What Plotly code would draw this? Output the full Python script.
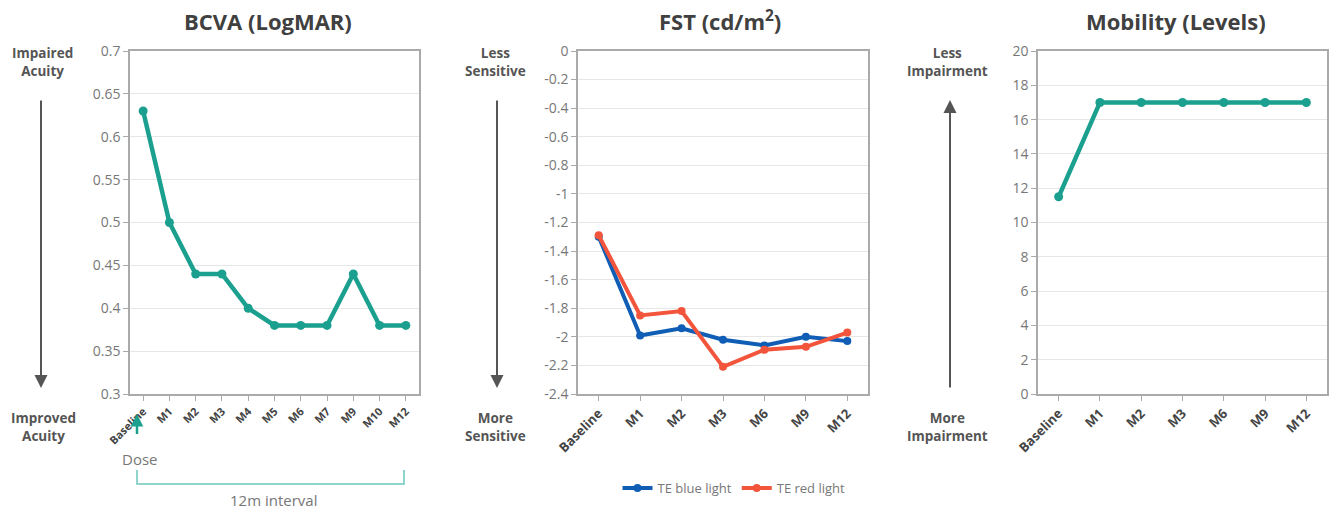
import plotly.graph_objects as go

W, H = 1331, 514

# ---- data ----
bcva_cats = ["Baseline", "M1", "M2", "M3", "M4", "M5", "M6", "M7", "M9", "M10", "M12"]
bcva_vals = [0.63, 0.50, 0.44, 0.44, 0.40, 0.38, 0.38, 0.38, 0.44, 0.38, 0.38]

fst_cats = ["Baseline", "M1", "M2", "M3", "M6", "M9", "M12"]
fst_blue = [-1.30, -1.99, -1.94, -2.02, -2.06, -2.00, -2.03]
fst_red = [-1.29, -1.85, -1.82, -2.21, -2.09, -2.07, -1.97]

mob_cats = ["Baseline", "M1", "M2", "M3", "M6", "M9", "M12"]
mob_vals = [11.5, 17, 17, 17, 17, 17, 17]

bcva_ticks = [0.3, 0.35, 0.4, 0.45, 0.5, 0.55, 0.6, 0.65, 0.7]
bcva_ticktext = ["0.3", "0.35", "0.4", "0.45", "0.5", "0.55", "0.6", "0.65", "0.7"]
fst_ticks = [0, -0.2, -0.4, -0.6, -0.8, -1, -1.2, -1.4, -1.6, -1.8, -2, -2.2, -2.4]
fst_ticktext = ["0", "-0.2", "-0.4", "-0.6", "-0.8", "-1", "-1.2", "-1.4", "-1.6", "-1.8", "-2", "-2.2", "-2.4"]
mob_ticks = list(range(0, 21, 2))

TEAL = "#1BA08F"
BLUE = "#0F5DB5"
RED = "#F2553B"
FONT = "Open Sans"

def px(x):
    return x / W

def py(y):
    return (H - y) / H

fig = go.Figure()

fig.add_trace(go.Scatter(x=bcva_cats, y=bcva_vals, mode="lines+markers",
                         line=dict(color=TEAL, width=4.5), marker=dict(size=9, color=TEAL),
                         xaxis="x", yaxis="y", showlegend=False))
fig.add_trace(go.Scatter(x=fst_cats, y=fst_blue, mode="lines+markers", name="TE blue light",
                         line=dict(color=BLUE, width=4), marker=dict(size=8, color=BLUE),
                         xaxis="x2", yaxis="y2"))
fig.add_trace(go.Scatter(x=fst_cats, y=fst_red, mode="lines+markers", name="TE red light",
                         line=dict(color=RED, width=4), marker=dict(size=8, color=RED),
                         xaxis="x2", yaxis="y2"))
fig.add_trace(go.Scatter(x=mob_cats, y=mob_vals, mode="lines+markers",
                         line=dict(color=TEAL, width=4.5), marker=dict(size=9, color=TEAL),
                         xaxis="x3", yaxis="y3", showlegend=False))

ydom = [py(394), py(51)]
xdoms = [[px(130), px(419)], [px(578), px(868)], [px(1038), px(1327)]]

common_x = dict(type="category", showline=True, linecolor="#aaaaaa", linewidth=1.5, mirror=True,
                ticks="outside", ticklen=5, tickcolor="#aaaaaa", tickangle=-45,
                showgrid=False, zeroline=False, fixedrange=True, automargin=False)
common_y = dict(showline=True, linecolor="#aaaaaa", linewidth=1.5, mirror=True,
                ticks="outside", ticklen=5, tickcolor="#aaaaaa", showgrid=True,
                gridcolor="#e6e6e6", gridwidth=1, zeroline=False, automargin=False,
                tickfont=dict(family=FONT, size=14, color="#777777"), fixedrange=True)

fig.update_layout(
    xaxis=dict(common_x, domain=xdoms[0], anchor="y", range=[-0.5, 10.5],
               tickfont=dict(family=FONT, size=11, color="#444444", weight="bold")),
    yaxis=dict(common_y, domain=ydom, anchor="x", range=[0.3, 0.7],
               tickvals=bcva_ticks, ticktext=bcva_ticktext),
    xaxis2=dict(common_x, domain=xdoms[1], anchor="y2", range=[-0.5, 6.5],
                tickfont=dict(family=FONT, size=13, color="#444444", weight="bold")),
    yaxis2=dict(common_y, domain=ydom, anchor="x2", range=[-2.4, 0],
                tickvals=fst_ticks, ticktext=fst_ticktext),
    xaxis3=dict(common_x, domain=xdoms[2], anchor="y3", range=[-0.5, 6.5],
                tickfont=dict(family=FONT, size=13, color="#444444", weight="bold")),
    yaxis3=dict(common_y, domain=ydom, anchor="x3", range=[0, 20],
                tickvals=mob_ticks),
    width=W, height=H, margin=dict(l=0, r=0, t=0, b=0, autoexpand=False),
    paper_bgcolor="white", plot_bgcolor="white",
    font=dict(family=FONT, color="#555555"),
    legend=dict(orientation="h", x=px(734), xanchor="center", y=py(488), yanchor="middle",
                font=dict(family=FONT, size=13, color="#777777"), itemwidth=30,
                bgcolor="rgba(0,0,0,0)"),
)

ann = []
# titles
for txt, cx in [("BCVA (LogMAR)", 268), ("FST (cd/m<sup>2</sup>)", 720), ("Mobility (Levels)", 1176)]:
    ann.append(dict(text=txt, x=px(cx), y=py(21), xref="paper", yref="paper", showarrow=False,
                    xanchor="center", yanchor="middle",
                    font=dict(family=FONT, size=22, color="#404040", weight="bold")))
# side labels
side = [("Impaired<br>Acuity", 42, 62), ("Improved<br>Acuity", 43, 427),
        ("Less<br>Sensitive", 495, 62), ("More<br>Sensitive", 496, 427),
        ("Less<br>Impairment", 947, 62), ("More<br>Impairment", 948, 427)]
for txt, cx, cy in side:
    ann.append(dict(text=txt, x=px(cx), y=py(cy), xref="paper", yref="paper", showarrow=False,
                    xanchor="center", yanchor="middle",
                    font=dict(family=FONT, size=13.5, color="#555555", weight="bold")))
# big arrows
for ax_x, down in [(41, True), (497, True), (950, False)]:
    if down:
        head, tail = 388, 100
    else:
        head, tail = 100, 388
    ann.append(dict(x=px(ax_x), y=py(head), xref="paper", yref="paper", showarrow=True,
                    ax=0, ay=tail - head, arrowhead=2, arrowsize=1.3, arrowwidth=2,
                    arrowcolor="#555555", text="", font=dict(size=1), borderpad=0))
# dose arrow (head via annotation, shaft via shape)
ann.append(dict(x=px(137), y=py(414), xref="paper", yref="paper", showarrow=True,
                ax=0, ay=12, arrowhead=2, arrowsize=1.0, arrowwidth=2.5,
                arrowcolor=TEAL, text="", font=dict(size=1), borderpad=0))
ann.append(dict(text="Dose", x=px(139), y=py(459), xref="paper", yref="paper", showarrow=False,
                xanchor="center", yanchor="middle", font=dict(family=FONT, size=15, color="#777777")))
ann.append(dict(text="12m interval", x=px(273), y=py(500), xref="paper", yref="paper", showarrow=False,
                xanchor="center", yanchor="middle", font=dict(family=FONT, size=15, color="#777777")))
fig.update_layout(annotations=ann)

fig.add_shape(type="line", xref="paper", yref="paper",
              x0=px(137), x1=px(137), y0=py(418), y1=py(434),
              line=dict(color=TEAL, width=2.5))

# bracket
fig.add_shape(type="path", xref="paper", yref="paper",
              path=f"M {px(137)},{py(470)} L {px(137)},{py(484)} L {px(404)},{py(484)} L {px(404)},{py(470)}",
              line=dict(color="#6CC7BB", width=1.5))

fig.write_html("out.html")
